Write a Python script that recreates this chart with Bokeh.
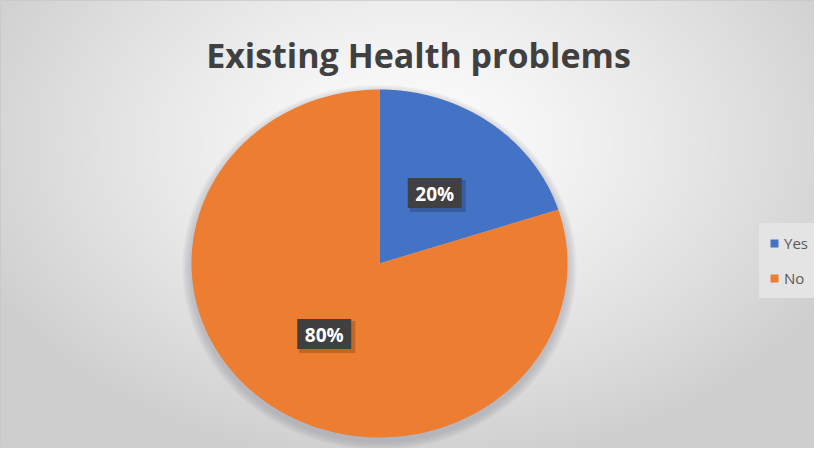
import numpy as np
from bokeh.plotting import figure
from bokeh.models import Range1d, Legend, LegendItem, Label, ColumnDataSource
from bokeh.core.properties import value
from bokeh.embed import file_html
from bokeh.resources import INLINE

# ---- data ----
categories = ["Yes", "No"]
shares = [20, 80]
slice_colors = ["#4472C4", "#ED7D31"]
title_text = "Existing Health problems"

# ---- layout constants (pixels within the figure) ----
W, H = 814, 448
CX, CY = 379, 263          # pie centre, from top-left of figure
RX, RY = 188, 174          # pie radii in px (slightly elliptical, as in the reference)

p = figure(width=W, height=H, output_backend="svg", toolbar_location=None,
           x_axis_type=None, y_axis_type=None, min_border=0,
           x_range=Range1d(-CX / RX, (W - CX) / RX),
           y_range=Range1d(-(H - CY) / RY, CY / RY))
p.grid.visible = False
p.outline_line_color = "#c8c8c8"
p.background_fill_color = "#e0e0e0"
p.border_fill_color = "#ffffff"

# ---- radial gray background ----
jj, ii = np.mgrid[0:H, 0:W]
py = (H - 1 - jj).astype(float)   # px from top
px = ii.astype(float)
gx, gy = 412.0, 142.0
d = np.sqrt(((px - gx) / 480.0) ** 2 + ((py - gy) / 330.0) ** 2)
t = np.clip(d, 0, 1) ** 1.3
c0, c1 = 253.0, 206.0
lev = (c0 + (c1 - c0) * t).astype(np.uint8)
img = np.empty((H, W), dtype=np.uint32)
view = img.view(dtype=np.uint8).reshape((H, W, 4))
view[:, :, 0] = lev
view[:, :, 1] = lev
view[:, :, 2] = lev
view[:, :, 3] = 255
x0, x1 = p.x_range.start, p.x_range.end
y0, y1 = p.y_range.start, p.y_range.end
p.image_rgba(image=[img], x=x0, y=y0, dw=x1 - x0, dh=y1 - y0)

# ---- soft shadow under the pie ----
th = np.linspace(0, 2 * np.pi, 240)
for k in range(7):
    s = 1.0 + 0.007 * (k + 1)
    off = -4.0 / RY
    p.patch(s * np.cos(th), s * np.sin(th) + off, fill_color="#6f7d8c",
            fill_alpha=0.05, line_color=None)

# ---- pie slices (clockwise from 12 o'clock) ----
total = float(sum(shares))
fracs = [v / total for v in shares]
xs, ys, mids = [], [], []
cum = 0.0
for f in fracs:
    a0 = np.pi / 2 - cum * 2 * np.pi
    a1 = np.pi / 2 - (cum + f) * 2 * np.pi
    a = np.linspace(a0, a1, 200)
    xs.append([0.0] + list(np.cos(a)) + [0.0])
    ys.append([0.0] + list(np.sin(a)) + [0.0])
    am = np.pi / 2 - (cum + f / 2) * 2 * np.pi
    mids.append(am)
    cum += f
src = ColumnDataSource(dict(xs=xs, ys=ys, color=slice_colors, cat=categories))
pie = p.patches("xs", "ys", fill_color="color", line_color=None, source=src)

# ---- data labels ----
lab_r = 0.5
lx = [lab_r * np.cos(a) for a in mids]
ly = [lab_r * np.sin(a) for a in mids]
labels = [f"{v}%" for v in shares]
p.rect([x + 3.0 / RX for x in lx], [y - 3.0 / RY for y in ly], width=56, height=32,
       width_units="screen", height_units="screen", fill_color="#000000",
       fill_alpha=0.18, line_color=None)
p.rect(lx, ly, width=54, height=30, width_units="screen", height_units="screen",
       fill_color="#404040", line_color=None)
p.text(lx, ly, text=labels, text_align="center", text_baseline="middle",
       text_font=value("Open Sans"), text_font_style="bold",
       text_font_size="19px", text_color="#ffffff", y_offset=1)

# ---- title ----
p.add_layout(Label(x=418, y=H - 54, x_units="screen", y_units="screen",
                   text=title_text, text_align="center", text_baseline="alphabetic",
                   text_font="Open Sans", text_font_style="bold",
                   text_font_size="34px", text_color="#404040"))

# ---- legend ----
items = [LegendItem(label=c, renderers=[pie], index=i) for i, c in enumerate(categories)]
leg = Legend(items=items, location=(759, 150), orientation="vertical",
             glyph_width=10, glyph_height=10, label_height=20, spacing=15,
             padding=10, margin=0, label_standoff=5,
             label_text_font="Open Sans", label_text_font_size="15px",
             label_text_color="#595959", background_fill_color="#e4e4e4",
             background_fill_alpha=1.0, border_line_alpha=0.0)
p.add_layout(leg)

open("out.html", "w").write(file_html(p, INLINE))
